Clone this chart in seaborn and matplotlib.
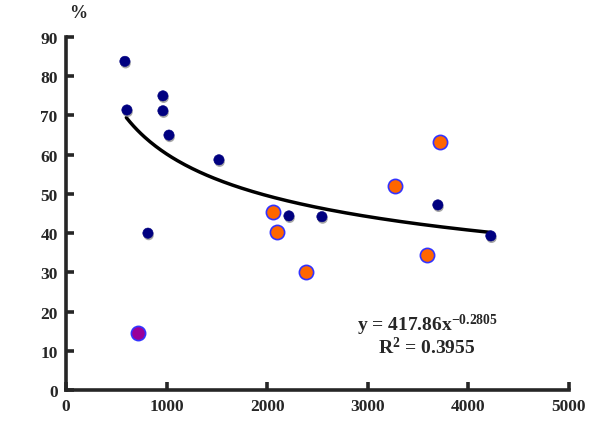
import matplotlib
matplotlib.use('Agg')
import matplotlib.pyplot as plt
import matplotlib.patheffects as pe
import numpy as np
import pandas as pd
import seaborn as sns

sns.set_style('ticks')
plt.rcParams['font.family'] = ['Liberation Serif', 'DejaVu Serif']
plt.rcParams['font.weight'] = 'bold'
plt.rcParams['mathtext.fontset'] = 'custom'
plt.rcParams['mathtext.rm'] = 'Liberation Serif:bold'
plt.rcParams['mathtext.bf'] = 'Liberation Serif:bold'
plt.rcParams['mathtext.default'] = 'bf'

# navy points
navy_x = [586, 606, 964, 964, 1024, 1521, 815, 2217, 2545, 3698, 4225]
navy_y = [83.8, 71.4, 75.0, 71.2, 65.0, 58.7, 40.0, 44.4, 44.2, 47.2, 39.3]
# orange points
orange_x = [2058, 2097, 2386, 3270, 3718, 3588]
orange_y = [45.4, 40.3, 30.1, 52.0, 63.3, 34.4]
# purple point
purple_x = [716]
purple_y = [14.5]

# power fit shown on the chart
coef_a = 417.86
coef_b = -0.2805
fit_range = [600, 4220]

fig, ax = plt.subplots(figsize=(6, 4.35), dpi=100)
fig.subplots_adjust(left=0.11, right=0.948, bottom=0.101, top=0.9126)

fx = np.linspace(fit_range[0], fit_range[1], 200)
fit = pd.DataFrame({'x': fx, 'y': coef_a * fx ** coef_b})
sns.lineplot(data=fit, x='x', y='y', color='black', linewidth=2.5, ax=ax, zorder=2)

shadow = [pe.SimplePatchShadow(offset=(0.5, -1.4), shadow_rgbFace='#808080', alpha=0.7), pe.Normal()]

sc = sns.scatterplot(x=navy_x, y=navy_y, color='#000080', edgecolor='#000080',
                     s=55, linewidth=0.4, ax=ax, zorder=3)
sc.collections[-1].set_path_effects(shadow)
sns.scatterplot(x=orange_x, y=orange_y, color='#FF6600', edgecolor='#3333FF',
                s=105, linewidth=1.2, ax=ax, zorder=3)
sns.scatterplot(x=purple_x, y=purple_y, color='#990099', edgecolor='#3333FF',
                s=105, linewidth=1.2, ax=ax, zorder=3)

ax.set_xlim(0, 5000)
ax.set_ylim(0, 90)
ax.set_xticks(range(0, 5001, 1000))
ax.set_yticks(range(0, 91, 10))
ax.set_xlabel('')
ax.set_ylabel('')
sns.despine(ax=ax)
for s in ['left', 'bottom']:
    ax.spines[s].set_linewidth(2.6)
ax.tick_params(direction='in', length=6, width=2.6, labelsize=12.5, pad=6)
for lab in ax.get_xticklabels() + ax.get_yticklabels():
    lab.set_fontweight('bold')

ax.text(0.025, 1.045, '%', transform=ax.transAxes, fontsize=13, fontweight='bold',
        ha='center', va='bottom')
ax.text(0.718, 0.187, r'y = 417.86x$^{-0.2805}$', transform=ax.transAxes,
        fontsize=14, fontweight='bold', ha='center', va='center')
ax.text(0.718, 0.122, r'R$^{2}$ = 0.3955', transform=ax.transAxes,
        fontsize=14, fontweight='bold', ha='center', va='center')

fig.savefig('out.png', dpi=100)
